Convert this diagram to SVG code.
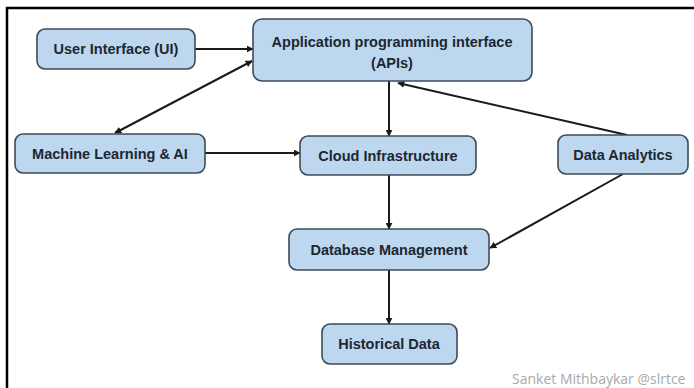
<svg xmlns="http://www.w3.org/2000/svg" width="694" height="388" viewBox="0 0 694 388">
<defs>
<marker id="ah" viewBox="0 0 10 10" refX="9" refY="5" markerWidth="7" markerHeight="7" markerUnits="userSpaceOnUse" orient="auto-start-reverse">
<path d="M0,0 L10,5 L0,10 z" fill="#1a1a1a"/>
</marker>
<style>
.box{fill:#bdd7ee;stroke:#3e4b58;stroke-width:1.6}
.t{font-family:"Liberation Sans",Arial,sans-serif;font-weight:bold;font-size:14.5px;fill:#1b2733;text-anchor:middle}
.c{stroke:#1a1a1a;stroke-width:2;fill:none;marker-end:url(#ah)}
</style>
</defs>
<rect width="694" height="388" fill="#ffffff"/>
<path d="M7,388 V8 H694" fill="none" stroke="#000" stroke-width="2.5"/>
<g id="connectors">
<line class="c" x1="195" y1="49" x2="253" y2="49"/>
<line class="c" x1="115" y1="133" x2="252" y2="61" style="marker-start:url(#ah)"/>
<line class="c" x1="389" y1="81" x2="389" y2="136"/>
<line class="c" x1="627" y1="135" x2="398" y2="83"/>
<line class="c" x1="205" y1="153" x2="300" y2="153"/>
<line class="c" x1="389" y1="175" x2="389" y2="229"/>
<line class="c" x1="623" y1="174" x2="490" y2="248"/>
<line class="c" x1="389" y1="270" x2="389" y2="324"/>
</g>
<g id="ui"><rect class="box" x="37" y="29" width="158" height="40" rx="8"/><text class="t" x="116" y="54">User Interface (UI)</text></g>
<g id="api"><rect class="box" x="253" y="19" width="279" height="62" rx="9"/><text class="t" x="392" y="47">Application programming interface</text><text class="t" x="392" y="68">(APIs)</text></g>
<g id="ml"><rect class="box" x="15" y="134" width="190" height="39" rx="8"/><text class="t" x="110" y="159">Machine Learning &amp; AI</text></g>
<g id="cloud"><rect class="box" x="300" y="136" width="176" height="39" rx="8"/><text class="t" x="388" y="161">Cloud Infrastructure</text></g>
<g id="da"><rect class="box" x="558" y="135" width="130" height="39" rx="8"/><text class="t" x="623" y="160">Data Analytics</text></g>
<g id="db"><rect class="box" x="289" y="229" width="200" height="41" rx="8"/><text class="t" x="389" y="255">Database Management</text></g>
<g id="hist"><rect class="box" x="322" y="324" width="135" height="40" rx="8"/><text class="t" x="389" y="349">Historical Data</text></g>
<text x="512" y="384" font-family="'Open Sans','Liberation Sans',sans-serif" font-size="14" fill="#a9a9a9">Sanket Mithbaykar @slrtce</text>
</svg>
